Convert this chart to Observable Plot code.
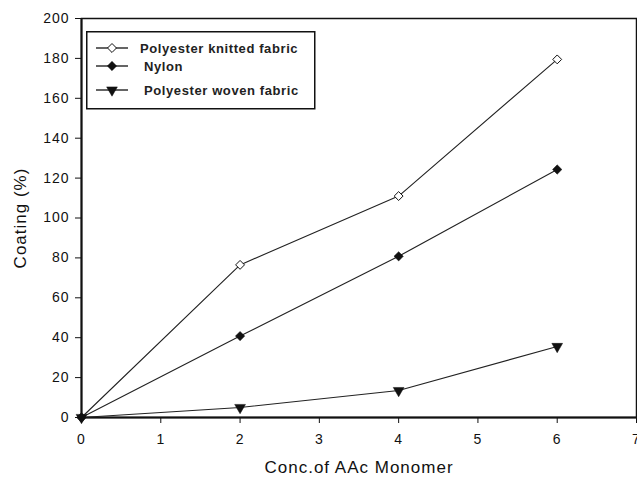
<!DOCTYPE html>
<html><head><meta charset="utf-8">
<script src="https://cdn.jsdelivr.net/npm/d3@7"></script>
<script src="https://cdn.jsdelivr.net/npm/@observablehq/plot@0.6"></script>
<style>
body{margin:0;background:#fff;}
#wrap{position:relative;width:637px;height:478px;font-family:"Liberation Sans",Arial,sans-serif;}
#legend{position:absolute;left:86px;top:31px;}
</style></head><body><div id="wrap"><div id="legend"></div></div>
<script>
const conc = [0, 2, 4, 6];
const knitted = [0, 76.5, 111, 179.5];
const nylon = [0, 40.8, 80.8, 124.3];
const woven = [0, 5, 13.5, 35.6];
const seriesNames = ["Polyester knitted fabric", "Nylon", "Polyester woven fabric"];
const xTicks = [0, 1, 2, 3, 4, 5, 6, 7];
const yTicks = [0, 20, 40, 60, 80, 100, 120, 140, 160, 180, 200];
const xLabel = "Conc.of AAc Monomer";
const yLabel = "Coating (%)";

const seriesValues = [knitted, nylon, woven];
const data = seriesNames.flatMap((s, i) => conc.map((c, j) => ({series: s, x: c, y: seriesValues[i][j]})));
const bySeries = s => data.filter(d => d.series === s);

const ink = "#111";
const chart = Plot.plot({
  width: 637, height: 478,
  marginLeft: 81, marginRight: 1, marginTop: 18, marginBottom: 61,
  style: {fontFamily: "Liberation Sans, Arial, sans-serif", fontSize: "14px", color: ink, background: "#fff", letterSpacing: "1px"},
  x: {domain: [0, 7]},
  y: {domain: [0, 200]},
  marks: [
    Plot.frame({stroke: ink, strokeWidth: 1.5}),
    Plot.axisX({ticks: xTicks, tickSize: 6, tickPadding: 11, label: null, tickFormat: d3.format("d")}),
    Plot.axisY({ticks: yTicks, tickSize: 6, tickPadding: 6, label: null, tickFormat: d3.format("d")}),
    Plot.ruleX([0], {stroke: ink, strokeWidth: 2}),
    Plot.ruleY([0], {stroke: ink, strokeWidth: 2}),
    Plot.line(data, {x: "x", y: "y", z: "series", stroke: "#222", strokeWidth: 1.1}),
    Plot.dot(bySeries(seriesNames[0]), {x: "x", y: "y", symbol: "diamond2", r: 4, fill: "#fff", stroke: ink, strokeWidth: 1}),
    Plot.dot(bySeries(seriesNames[1]), {x: "x", y: "y", symbol: "diamond2", r: 4.2, fill: ink, stroke: ink, strokeWidth: 0.5}),
    Plot.dot(bySeries(seriesNames[2]), {x: "x", y: "y", symbol: "triangle", r: 4, rotate: 180, fill: ink, stroke: ink, strokeWidth: 0.5}),
    Plot.text([xLabel], {frameAnchor: "bottom", textAnchor: "middle", dy: 55, fontSize: 17, fill: ink, letterSpacing: "0.8px"}),
    Plot.text([yLabel], {frameAnchor: "left", textAnchor: "middle", dx: -61, rotate: -90, fontSize: 17, fill: ink, letterSpacing: "0.7px"})
  ]
});
document.getElementById("wrap").appendChild(chart);

// Legend (HTML/SVG overlay)
const rowsY = [17, 35, 59];
const textX = [54, 58, 58];
const lg = d3.select("#legend").append("svg").attr("width", 231).attr("height", 80);
lg.append("rect").attr("x", 0.75).attr("y", 0.75).attr("width", 228).attr("height", 77)
  .attr("fill", "#fff").attr("stroke", ink).attr("stroke-width", 1.5);
const sym = [d3.symbol(d3.symbolDiamond2, 51), d3.symbol(d3.symbolDiamond2, 55), d3.symbol(d3.symbolTriangle, 50)];
seriesNames.forEach((s, i) => {
  const g = lg.append("g").attr("transform", `translate(0,${rowsY[i]})`);
  g.append("line").attr("x1", 10).attr("x2", 42).attr("stroke", ink).attr("stroke-width", 1.3);
  g.append("path").attr("d", sym[i]()).attr("transform", `translate(26,0)${i === 2 ? " rotate(180)" : ""}`)
    .attr("fill", i === 0 ? "#fff" : ink).attr("stroke", ink).attr("stroke-width", i === 0 ? 1 : 0.5);
  g.append("text").attr("x", textX[i]).attr("dy", "0.35em").attr("font-size", 13).attr("font-weight", "bold")
    .attr("fill", "#222").attr("letter-spacing", "0.6px")
    .attr("font-family", "Liberation Sans, Arial, sans-serif").text(s);
});
</script></body></html>
